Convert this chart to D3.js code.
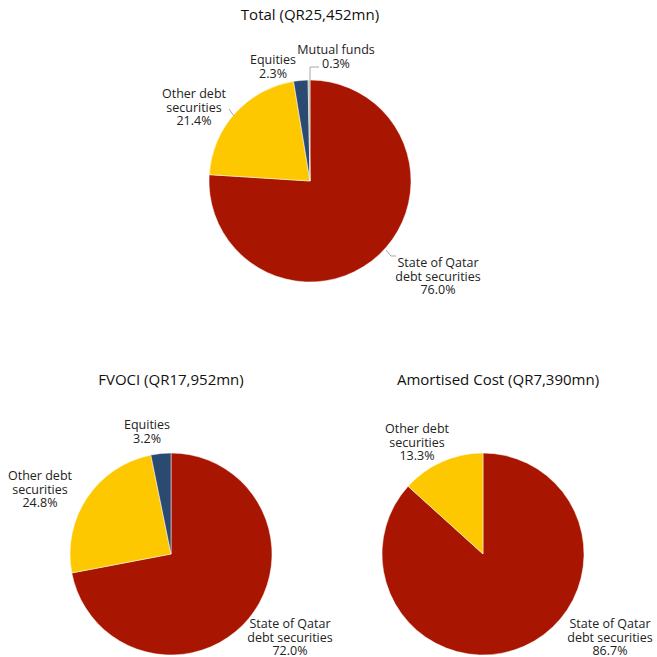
<!DOCTYPE html>
<html>
<head>
<meta charset="utf-8">
<script src="https://cdn.jsdelivr.net/npm/d3@7"></script>
<style>
  body { margin: 0; background: #fff; }
  text { font-family: "Open Sans", "Noto Sans", sans-serif; fill: #222; }
</style>
</head>
<body>
<div id="chart"></div>
<script>
// data
let categories = ["State of Qatar debt securities", "Other debt securities", "Equities", "Mutual funds"];
let totalValues = [76.0, 21.4, 2.3, 0.3];
let fvociValues = [72.0, 24.8, 3.2, 0];
let amortisedValues = [86.7, 13.3, 0, 0];
let titles = ["Total (QR25,452mn)", "FVOCI (QR17,952mn)", "Amortised Cost (QR7,390mn)"];
let labelLines = [["State of Qatar", "debt securities"], ["Other debt", "securities"], ["Equities"], ["Mutual funds"]];

let width = 657, height = 657;
let radius = 101;

let color = d3.scaleOrdinal()
    .domain(categories)
    .range(["#a81500", "#fdc800", "#2b4a72", "#a9b99c"]);

let svg = d3.select("#chart").append("svg")
    .attr("width", width)
    .attr("height", height);

let arc = d3.arc().innerRadius(0).outerRadius(radius);
let pie = d3.pie().sort(null).value(function(d) { return d.value; });

// layout: pie centres, title spots, label anchors (relative to centre), leader lines
let charts = [
  { values: totalValues, cx: 310, cy: 181, titleX: 310, titleY: 20,
    labels: [[128, 82], [-116, -87], [-37, -121], [26, -131]],
    leaders: [[[76, 69], [81, 75], [86, 75]], [[-76, -65], [-81, -72]], null, [[0, -101], [0, -114], [9, -114]]] },
  { values: fvociValues, cx: 171, cy: 554, titleX: 171, titleY: 385,
    labels: [[119, 70], [-131, -78], [-24, -129], null],
    leaders: [null, null, null, null] },
  { values: amortisedValues, cx: 483, cy: 554, titleX: 498, titleY: 385,
    labels: [[127, 70], [-66, -125], null, null],
    leaders: [null, null, null, null] }
];

charts.forEach(function(c, ci) {
  let dataset = categories.map(function(k, i) { return { label: k, value: c.values[i], idx: i }; });

  svg.append("text")
    .attr("x", c.titleX)
    .attr("y", c.titleY)
    .attr("text-anchor", "middle")
    .style("font-size", "15px")
    .style("fill", "#111")
    .text(titles[ci]);

  let g = svg.append("g")
    .attr("transform", "translate(" + c.cx + "," + c.cy + ")");

  g.selectAll("path")
    .data(pie(dataset).filter(function(d) { return d.data.value > 0; }))
    .enter()
    .append("path")
      .attr("d", arc)
      .attr("fill", function(d) { return color(d.data.label); })
      .attr("stroke", "#fff")
      .attr("stroke-width", 0.5);

  c.leaders.forEach(function(pts) {
    if (!pts) return;
    g.append("path")
      .attr("d", d3.line()(pts))
      .attr("fill", "none")
      .attr("stroke", "#a6a6a6")
      .attr("stroke-width", 1);
  });

  dataset.forEach(function(d, i) {
    let pos = c.labels[i];
    if (!pos || d.value <= 0) return;
    let lines = labelLines[i].concat([d.value.toFixed(1) + "%"]);
    let t = g.append("text")
      .attr("text-anchor", "middle")
      .style("font-size", "12.5px");
    lines.forEach(function(line, li) {
      t.append("tspan")
        .attr("x", pos[0])
        .attr("y", pos[1] + li * 13.4)
        .attr("dy", "0.35em")
        .text(line);
    });
  });
});
</script>
</body>
</html>
